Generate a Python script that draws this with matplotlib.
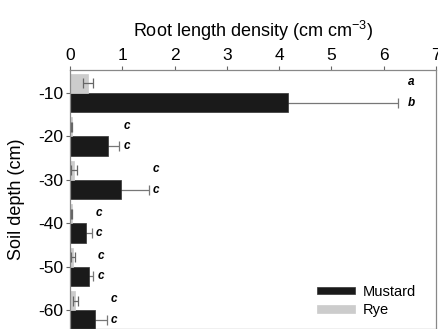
import matplotlib
matplotlib.use("Agg")
import matplotlib.pyplot as plt
import numpy as np

plt.rcParams['font.family'] = ['Liberation Sans', 'DejaVu Sans']
plt.rcParams['axes.unicode_minus'] = False
plt.rcParams['mathtext.fontset'] = 'custom'
plt.rcParams['mathtext.rm'] = 'Liberation Sans'
plt.rcParams['mathtext.default'] = 'regular'

depths = [-10, -20, -30, -40, -50, -60]
mustard = [4.17, 0.73, 0.98, 0.30, 0.37, 0.48]
mustard_err = [2.10, 0.21, 0.53, 0.12, 0.07, 0.22]
rye = [0.34, 0.03, 0.07, 0.03, 0.05, 0.10]
rye_err = [0.10, 0.01, 0.06, 0.01, 0.04, 0.05]
mustard_letters = ['b', 'c', 'c', 'c', 'c', 'c']
rye_letters = ['a', 'c', 'c', 'c', 'c', 'c']
xticks = [0, 1, 2, 3, 4, 5, 6, 7]

W, H = 439, 329
fig = plt.figure(figsize=(W / 100, H / 100), dpi=100)
ax = fig.add_axes([70 / W, 0, (436 - 70) / W, (329 - 70) / H])

bh = 4.4
d = np.array(depths, dtype=float)
ax.barh(d - bh / 2, mustard, height=bh, color='#1a1a1a', edgecolor='#333333', linewidth=0.5, label='Mustard', zorder=2)
ax.barh(d + bh / 2, rye, height=bh, color='#cccccc', edgecolor='#cccccc', linewidth=0.5, label='Rye', zorder=2)
ax.errorbar(mustard, d - bh / 2, xerr=mustard_err, fmt='none', ecolor='#777777', elinewidth=0.9, capsize=3.5, capthick=0.9, zorder=1)
ax.errorbar(rye, d + bh / 2, xerr=rye_err, fmt='none', ecolor='#666666', elinewidth=0.9, capsize=3.5, capthick=0.9, zorder=3)

for i, dep in enumerate(depths):
    xe = mustard[i] + mustard_err[i]
    off = 7 if i == 0 else 3
    ax.annotate(mustard_letters[i], (xe, dep - bh / 2), xytext=(off, 0), textcoords='offset points',
                ha='left', va='center', fontsize=8.5, fontweight='bold', fontstyle='italic')
    ax.annotate(rye_letters[i], (xe, dep + bh / 2 + 0.3), xytext=(off, 0), textcoords='offset points',
                ha='left', va='center', fontsize=8.5, fontweight='bold', fontstyle='italic')

ax.set_xlim(0, 7)
ax.set_ylim(-64.3, -4.7)
ax.set_xticks(xticks)
ax.set_yticks(depths)
ax.xaxis.tick_top()
ax.xaxis.set_label_position('top')
ax.set_xlabel('Root length density (cm cm$^{-3}$)', fontsize=13, labelpad=8)
ax.set_ylabel('Soil depth (cm)', fontsize=13, labelpad=9)
ax.tick_params(axis='both', labelsize=12.5, color='#666666', length=3, width=0.8, direction='out')
ax.tick_params(axis='y', pad=2)
ax.tick_params(axis='x', pad=2)
for s in ax.spines.values():
    s.set_color('#888888')
    s.set_linewidth(0.9)

leg = ax.legend(loc='upper left', bbox_to_anchor=((317 - 70) / 366, 1 - (285 - 70) / 259), frameon=False,
                fontsize=10.5, handlelength=2.6, handleheight=0.4, handletextpad=0.55, labelspacing=0.3,
                borderaxespad=0, borderpad=0)

fig.savefig('out.png', dpi=100)
